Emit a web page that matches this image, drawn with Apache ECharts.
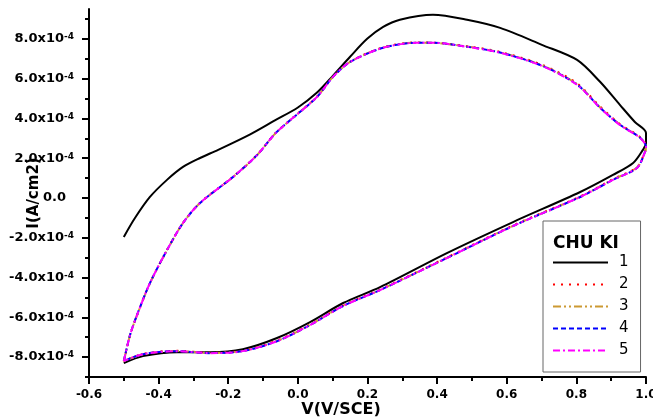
<!DOCTYPE html>
<html>
<head>
<meta charset="utf-8">
<script src="https://cdn.jsdelivr.net/npm/echarts@6/dist/echarts.min.js"></script>
<style>
html,body{margin:0;padding:0;background:#fff}
#chart{width:653px;height:419px}
</style>
</head>
<body>
<div id="chart"></div>
<script>
// current values are in units of 1e-4 A/cm2
var SCALE = 1e-4;
var cycleNames = ['1', '2', '3', '4', '5'];

// cycle 1 (starts near open circuit)
var v1 = [-0.5, -0.468, -0.425, -0.376, -0.33, -0.281, -0.229, -0.137, -0.066, 0.0, 0.055, 0.101, 0.15, 0.199, 0.245, 0.293, 0.388, 0.486, 0.581, 0.701, 0.802, 0.868, 0.925, 0.968, 1.0,
          1.0, 0.991, 0.963, 0.905, 0.811, 0.618, 0.428, 0.236, 0.13, 0.035, -0.06, -0.158, -0.252, -0.347, -0.445, -0.5];
var i1 = [-1.96, -1.01, 0.05, 0.91, 1.56, 2.01, 2.42, 3.2, 3.9, 4.55, 5.3, 6.15, 7.1, 8.0, 8.60, 8.96, 9.21, 8.96, 8.55, 7.70, 6.94, 5.84, 4.68, 3.82, 3.27,
          2.75, 2.42, 1.76, 1.16, 0.30, -1.21, -2.77, -4.48, -5.28, -6.24, -7.04, -7.60, -7.75, -7.75, -7.95, -8.30];

// cycles 2-5 share the same potential steps
var vLoop = [-0.5, -0.482, -0.462, -0.425, -0.376, -0.33, -0.281, -0.186, -0.117, -0.066, -0.014, 0.055, 0.101, 0.15, 0.245, 0.342, 0.388, 0.486, 0.581, 0.701, 0.802, 0.868, 0.925, 0.983, 1.0,
             0.997, 0.974, 0.905, 0.811, 0.618, 0.428, 0.236, 0.13, 0.035, -0.06, -0.158, -0.252, -0.347, -0.445, -0.5];
var i2 = [-8.22, -6.90, -5.90, -4.28, -2.62, -1.25, -0.24, 1.07, 2.17, 3.23, 4.04, 5.09, 6.10, 6.85, 7.57, 7.82, 7.81, 7.63, 7.34, 6.70, 5.76, 4.60, 3.72, 3.06, 2.60,
          2.33, 1.55, 0.95, 0.08, -1.38, -2.99, -4.60, -5.40, -6.36, -7.17, -7.68, -7.78, -7.68, -7.84, -8.22];
var i3 = [-8.21, -6.89, -5.89, -4.29, -2.63, -1.26, -0.25, 1.06, 2.16, 3.22, 4.03, 5.08, 6.09, 6.84, 7.56, 7.81, 7.80, 7.61, 7.32, 6.67, 5.72, 4.56, 3.69, 3.04, 2.58,
          2.31, 1.53, 0.93, 0.06, -1.40, -3.01, -4.62, -5.42, -6.38, -7.19, -7.69, -7.79, -7.69, -7.85, -8.21];
var i4 = [-8.20, -6.88, -5.88, -4.28, -2.62, -1.26, -0.25, 1.06, 2.16, 3.22, 4.03, 5.08, 6.09, 6.84, 7.55, 7.80, 7.80, 7.60, 7.31, 6.65, 5.70, 4.54, 3.68, 3.03, 2.57,
          2.30, 1.51, 0.91, 0.05, -1.41, -3.02, -4.63, -5.43, -6.39, -7.20, -7.70, -7.80, -7.70, -7.85, -8.20];
var i5 = [-8.20, -6.89, -5.89, -4.28, -2.62, -1.26, -0.25, 1.06, 2.16, 3.22, 4.03, 5.08, 6.09, 6.84, 7.55, 7.80, 7.80, 7.60, 7.30, 6.64, 5.69, 4.53, 3.67, 3.02, 2.57,
          2.30, 1.51, 0.91, 0.05, -1.41, -3.02, -4.63, -5.43, -6.39, -7.20, -7.70, -7.80, -7.70, -7.85, -8.20];

var yMajorTicks = [-8e-4, -6e-4, -4e-4, -2e-4, 0, 2e-4, 4e-4, 6e-4, 8e-4];
var yMinorTicks = [-9e-4, -7e-4, -5e-4, -3e-4, -1e-4, 1e-4, 3e-4, 5e-4, 7e-4, 9e-4];

var FONT = 'DejaVu Sans, sans-serif';

function pairs(vs, is) {
    return vs.map(function (v, k) { return [v, is[k] * SCALE]; });
}

var seriesData = [pairs(v1, i1), pairs(vLoop, i2), pairs(vLoop, i3), pairs(vLoop, i4), pairs(vLoop, i5)];
var colors = ['#000000', '#ff0000', '#cc9933', '#0000ff', '#ff00ff'];
var dashes = ['solid', [2, 6], [8, 3, 2, 3, 2, 3], [5, 3], [7, 3, 2, 3]];

var chart = echarts.init(document.getElementById('chart'));
chart.setOption({
    animation: false,
    backgroundColor: '#fff',
    title: {
        text: 'CHU KI',
        left: 553,
        top: 235,
        padding: 0,
        textStyle: {fontFamily: FONT, fontSize: 17, fontWeight: 'bold', color: '#000'}
    },
    legend: {
        orient: 'vertical',
        left: 543,
        top: 221,
        padding: [34, 12, 14, 9],
        borderColor: '#666',
        borderWidth: 1,
        itemWidth: 55,
        itemHeight: 14,
        itemGap: 7,
        data: cycleNames,
        itemStyle: {opacity: 0},
        textStyle: {fontFamily: FONT, fontSize: 15, color: '#000', padding: [0, 0, 0, 6]}
    },
    grid: {left: 89, right: 7, top: 9, bottom: 42, outerBoundsMode: 'none'},
    xAxis: {
        type: 'value',
        min: -0.6,
        max: 1.0,
        interval: 0.2,
        name: 'V(V/SCE)',
        nameLocation: 'middle',
        nameGap: 25,
        nameMoveOverlap: false,
        nameTextStyle: {fontFamily: FONT, fontSize: 16, fontWeight: 'bold', color: '#000', padding: [0, 53, 0, 0]},
        axisLine: {onZero: false, lineStyle: {color: '#000', width: 2}},
        axisTick: {length: 7, lineStyle: {color: '#000', width: 2}},
        minorTick: {show: true, splitNumber: 2, length: 4, lineStyle: {color: '#000', width: 2}},
        splitLine: {show: false},
        axisLabel: {
            margin: 12,
            fontFamily: FONT, fontSize: 12, fontWeight: 'bold', color: '#000',
            formatter: function (v) { return v.toFixed(1); }
        }
    },
    yAxis: [{
        type: 'value',
        min: -0.0009,
        max: 0.00095,
        name: 'I(A/cm2)',
        nameLocation: 'middle',
        nameGap: 47,
        nameMoveOverlap: false,
        nameTextStyle: {fontFamily: FONT, fontSize: 15, fontWeight: 'bold', color: '#000'},
        axisLine: {show: true, onZero: false, lineStyle: {color: '#000', width: 2}},
        axisTick: {show: true, length: 7, customValues: yMajorTicks, lineStyle: {color: '#000', width: 2}},
        splitLine: {show: false},
        axisLabel: {
            margin: 15,
            customValues: yMajorTicks,
            formatter: function (v) {
                var s = (v / SCALE).toFixed(1);
                if (s === '0.0' || s === '-0.0') return '{z|0.0}';
                return '{b|' + s + 'x10}{s|-4}';
            },
            rich: {
                b: {fontFamily: FONT, fontSize: 13, fontWeight: 'bold', color: '#000'},
                s: {fontFamily: FONT, fontSize: 9, fontWeight: 'bold', color: '#000', verticalAlign: 'top'},
                z: {fontFamily: FONT, fontSize: 13, fontWeight: 'bold', color: '#000', padding: [0, 8, 0, 0]}
            }
        }
    }, {
        type: 'value',
        min: -0.0009,
        max: 0.00095,
        position: 'left',
        offset: 0,
        axisLine: {show: false, onZero: false},
        axisTick: {show: true, length: 4, customValues: yMinorTicks, lineStyle: {color: '#000', width: 2}},
        axisLabel: {show: false, customValues: yMinorTicks},
        splitLine: {show: false}
    }],
    series: cycleNames.map(function (n, k) {
        return {
            name: n,
            type: 'line',
            yAxisIndex: 0,
            data: seriesData[k],
            symbol: 'none',
            smooth: 0.3,
            color: colors[k],
            lineStyle: {color: colors[k], width: 2, type: dashes[k]}
        };
    })
});
</script>
</body>
</html>
